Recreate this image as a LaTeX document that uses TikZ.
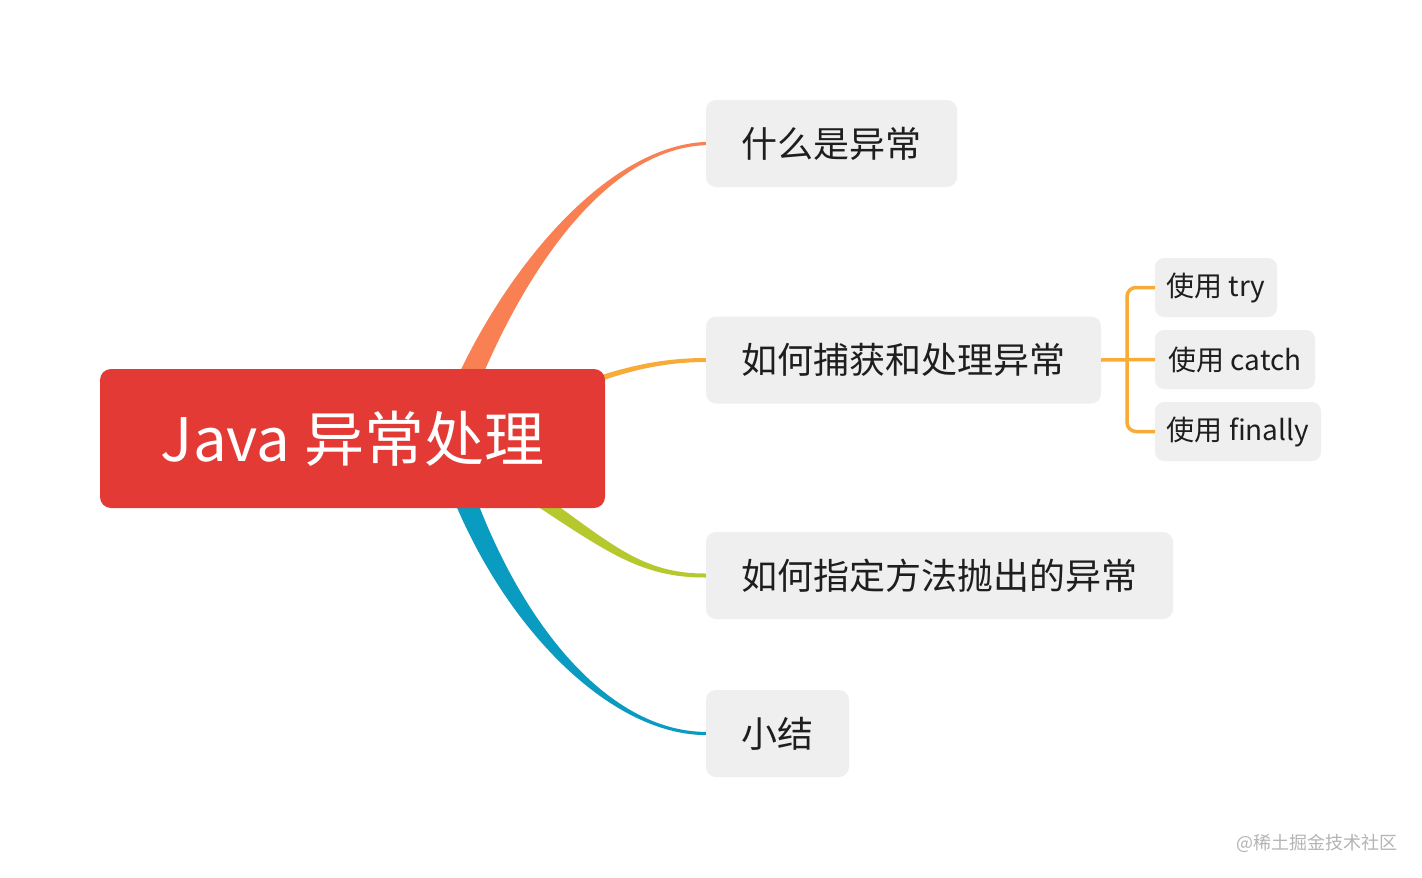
\documentclass[tikz,border=0pt]{standalone}
\usepackage{fontspec}
\setmainfont{Noto Sans CJK SC}
\usetikzlibrary{calc}
\definecolor{rootred}{HTML}{E43A35}
\definecolor{boxgray}{HTML}{EFEFEF}
\definecolor{txt}{HTML}{1E1E1E}
\definecolor{borange}{HTML}{F98052}
\definecolor{byellow}{HTML}{F9AB38}
\definecolor{bgreen}{HTML}{B5C92E}
\definecolor{bblue}{HTML}{0A9BC0}
\definecolor{wm}{HTML}{B4B4B4}
\newcommand\taperbranch[7]{%
  \fill[#1] ($(#2)+(#6)$) .. controls ($(#3)+(#6)$) and ($(#4)+(#7)$) .. ($(#5)+(#7)$)
    -- ($(#5)-(#7)$) .. controls ($(#4)-(#7)$) and ($(#3)-(#6)$) .. ($(#2)-(#6)$) -- cycle;}
\begin{document}
\begin{tikzpicture}[x=1pt,y=-1pt,
  rootbox/.style={fill=rootred,rounded corners=11pt,text=white,font=\fontsize{60}{60}\selectfont,inner sep=0pt},
  topic/.style={fill=boxgray,rounded corners=10pt,text=txt,font=\fontsize{36}{36}\selectfont,inner sep=0pt,minimum height=87pt},
  subtopic/.style={fill=boxgray,rounded corners=9pt,text=txt,font=\fontsize{28}{28}\selectfont,inner sep=0pt,minimum height=59pt},
  bracket/.style={draw=byellow,line width=3.5pt,rounded corners=9pt}]
\useasboundingbox (0,0) rectangle (1422,878);
\fill[white] (0,0) rectangle (1422,878);
\coordinate (hub) at (445,440);
\coordinate (o1) at (492,300); \coordinate (o2) at (595,148);
\coordinate (y1) at (560,395); \coordinate (y2) at (620,360);
\coordinate (g1) at (590,525); \coordinate (g2) at (620,576);
\coordinate (u1) at (490,600); \coordinate (u2) at (598,733);
\path (831.5,143.5) node[topic,minimum width=251pt] (b1) {什么是异常};
\path (903.5,360) node[topic,minimum width=395pt] (b2) {如何捕获和处理异常};
\path (939.5,575.5) node[topic,minimum width=467pt] (b3) {如何指定方法抛出的异常};
\path (777.5,733.5) node[topic,minimum width=143pt] (b4) {小结};
% branches
\taperbranch{borange}{hub}{o1}{o2}{b1.west}{-13,0}{0,-1.6}
\taperbranch{byellow}{hub}{y1}{y2}{b2.west}{0,-4}{0,-2}
\taperbranch{bgreen}{hub}{g1}{g2}{b3.west}{4,-6}{0,-2}
\taperbranch{bblue}{hub}{u1}{u2}{b4.west}{-12,0}{0,1.6}
% root
\path (352.5,438.5) node[rootbox,minimum width=505pt,minimum height=139pt] (root) {Java 异常处理};
% subtopics
\path (1216,287.5) node[subtopic,minimum width=122pt] (s1) {使用 try};
\path (1235,359.5) node[subtopic,minimum width=160pt] (s2) {使用 catch};
\path (1238,431.5) node[subtopic,minimum width=166pt] (s3) {使用 finally};
\coordinate (j) at (1127,360);
\draw[bracket] (s1.west) -- (s1.west -| j) -- (s3.west -| j) -- (s3.west);
\draw[draw=byellow,line width=3.5pt] (b2.east) -- (s2.west);
% watermark
\node[text=wm,font=\fontsize{18}{18}\selectfont,inner sep=0pt] (wmk) at (1317,843) {@稀土掘金技术社区};
\end{tikzpicture}
\end{document}
